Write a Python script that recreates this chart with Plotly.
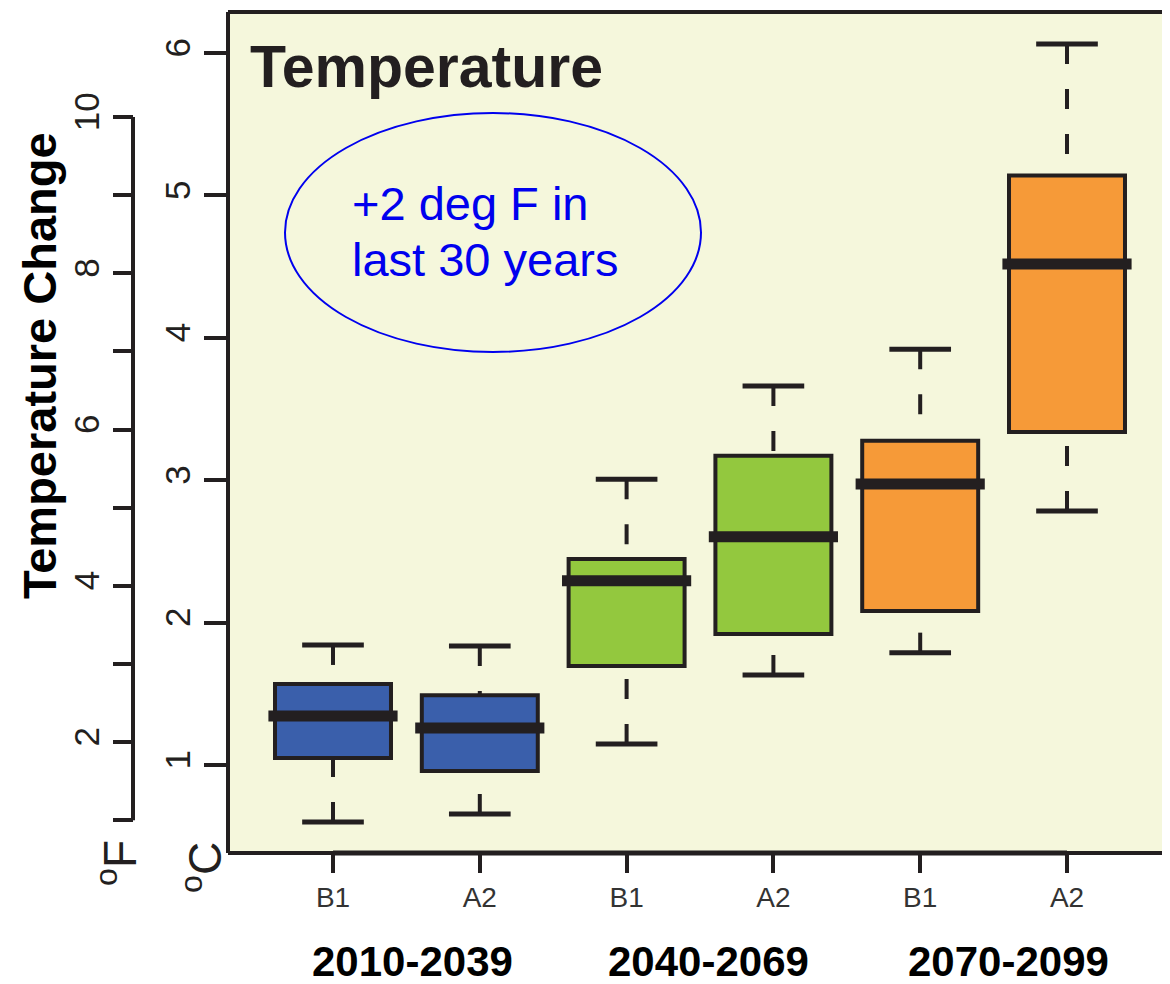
import plotly.graph_objects as go

# ---------------- data ----------------
scenarios = ["B1", "A2", "B1", "A2", "B1", "A2"]
periods = ["2010-2039", "2040-2069", "2070-2099"]
lower_whisker = [0.600, 0.656, 1.147, 1.632, 1.789, 2.784]
q1 = [1.049, 0.958, 1.695, 1.920, 2.081, 3.338]
median = [1.344, 1.260, 2.294, 2.603, 2.973, 4.518]
q3 = [1.569, 1.490, 2.447, 3.172, 3.277, 5.140]
upper_whisker = [1.843, 1.836, 3.006, 3.662, 3.919, 6.063]
box_colors = ["#3a5fab", "#3a5fab", "#93c83e", "#93c83e", "#f69a38", "#f69a38"]
celsius_ticks = [1, 2, 3, 4, 5, 6]
fahrenheit_major = [2, 4, 6, 8, 10]
fahrenheit_minor = [1, 3, 5, 7, 9]

# ---------------- style / geometry (page pixels) ----------------
PAGE_W, PAGE_H = 1170, 984
OFF = 8                      # default body margin of the html page
W, H = PAGE_W - OFF, PAGE_H - OFF
PLOT_L, PLOT_T, PLOT_B = 228, 12, 853
DARK = "#231f20"
BG = "#f5f7dc"
FONT = "Liberation Sans, Arial, sans-serif"
BOX_W = 0.79
CAP_HW = 0.21
MED_HW = 0.44


def xp(px):
    return (px - OFF) / W


def yp(py):
    return (PLOT_B - py) / (PLOT_B - PLOT_T)


pos = list(range(len(scenarios)))

fig = go.Figure()

# whiskers (dashed, drawn from the cap toward the box)
wx, wy = [], []
for i in pos:
    wx += [i, i, None, i, i, None]
    wy += [upper_whisker[i], q3[i], None, lower_whisker[i], q1[i], None]
fig.add_trace(go.Scatter(x=wx, y=wy, mode="lines", hoverinfo="skip",
                         line=dict(color=DARK, width=4, dash="20px,25px")))

# boxes
fig.add_trace(go.Bar(x=pos, y=[q3[i] - q1[i] for i in pos], base=q1, width=BOX_W,
                     marker=dict(color=box_colors, line=dict(color=DARK, width=4)),
                     hoverinfo="skip"))

# caps
cx, cy = [], []
for i in pos:
    cx += [i - CAP_HW, i + CAP_HW, None, i - CAP_HW, i + CAP_HW, None]
    cy += [upper_whisker[i], upper_whisker[i], None, lower_whisker[i], lower_whisker[i], None]
fig.add_trace(go.Scatter(x=cx, y=cy, mode="lines", hoverinfo="skip",
                         line=dict(color=DARK, width=5)))

# medians
mx, my = [], []
for i in pos:
    mx += [i - MED_HW, i + MED_HW, None]
    my += [median[i], median[i], None]
fig.add_trace(go.Scatter(x=mx, y=my, mode="lines", hoverinfo="skip",
                         line=dict(color=DARK, width=11)))

# dummy trace for the Fahrenheit axis
fig.add_trace(go.Scatter(x=[None], y=[None], yaxis="y2", showlegend=False, hoverinfo="skip"))

# axis ranges from the picture geometry
x_px_per = (1067 - 333) / 5.0
x_range = [(PLOT_L - 333) / x_px_per, 5 + (PAGE_W - 1067) / x_px_per]
c_px_per = (765 - 53) / 5.0
c_range = [1 - (PLOT_B - 765) / c_px_per, 6 + (53 - PLOT_T) / c_px_per]
f_px_per = (742 - 117) / 8.0
f_range = [2 - (PLOT_B - 742) / f_px_per, 2 + (742 - PLOT_T) / f_px_per]

fig.update_layout(
    width=W, height=H,
    margin=dict(l=0, r=0, t=PLOT_T - OFF, b=PAGE_H - PLOT_B),
    paper_bgcolor="white", plot_bgcolor=BG,
    showlegend=False, barmode="overlay",
    font=dict(family=FONT, color=DARK),
    xaxis=dict(domain=[xp(PLOT_L), 1], range=x_range, tickmode="array",
               tickvals=pos, ticktext=scenarios, ticks="outside", ticklen=19,
               tickwidth=4, tickcolor=DARK, showgrid=False, zeroline=False,
               showline=False, tickfont=dict(size=28, color="#333333", family=FONT)),
    yaxis=dict(range=c_range, tickmode="array", tickvals=celsius_ticks,
               ticktext=[str(v) for v in celsius_ticks], ticks="outside",
               ticklen=23, tickwidth=4, tickcolor=DARK, tickangle=-90,
               showgrid=False, zeroline=False, showline=False,
               tickfont=dict(size=35, color=DARK, family=FONT)),
    yaxis2=dict(overlaying="y", anchor="free", position=xp(133), side="left",
                range=f_range, tickmode="array", tickvals=fahrenheit_major,
                ticktext=[str(v) for v in fahrenheit_major], ticks="outside", ticklen=20,
                tickwidth=4, tickcolor=DARK, tickangle=-90, showgrid=False,
                zeroline=False, showline=False,
                minor=dict(tickmode="array", tickvals=fahrenheit_minor, ticks="outside",
                           ticklen=20, tickwidth=4, tickcolor=DARK, showgrid=False),
                tickfont=dict(size=35, color=DARK, family=FONT)),
)

shapes = [
    dict(type="line", xref="x domain", yref="y domain", x0=0, x1=1, y0=1, y1=1,
         line=dict(color=DARK, width=4)),
    dict(type="line", xref="x domain", yref="y domain", x0=0, x1=0, y0=0, y1=1,
         line=dict(color=DARK, width=4)),
    dict(type="line", xref="x domain", yref="y domain", x0=0, x1=1, y0=0, y1=0,
         line=dict(color=DARK, width=4)),
    dict(type="line", xref="x", yref="y domain", x0=pos[0], x1=pos[-1], y0=0, y1=0,
         line=dict(color=DARK, width=5)),
    dict(type="line", xref="paper", yref="y2", x0=xp(133), x1=xp(133),
         y0=fahrenheit_minor[0], y1=fahrenheit_major[-1],
         line=dict(color=DARK, width=4)),
    dict(type="circle", xref="paper", yref="paper", x0=xp(285), x1=xp(701),
         y0=yp(352), y1=yp(113), line=dict(color="#0000ee", width=2)),
]
fig.update_layout(shapes=shapes)

ann = []
ann.append(dict(text="<b>Temperature</b>", x=xp(248), y=yp(67), xref="paper", yref="paper",
                xanchor="left", yanchor="middle", showarrow=False,
                font=dict(size=59, color=DARK, family=FONT)))
ann.append(dict(text="+2 deg F in", x=xp(350), y=yp(203), xref="paper", yref="paper",
                xanchor="left", yanchor="middle", showarrow=False,
                font=dict(size=47, color="#0000ee", family=FONT)))
ann.append(dict(text="last 30 years", x=xp(350), y=yp(260), xref="paper", yref="paper",
                xanchor="left", yanchor="middle", showarrow=False,
                font=dict(size=47, color="#0000ee", family=FONT)))
ann.append(dict(text="<b>Temperature Change</b>", x=xp(40), y=yp(366), xref="paper",
                yref="paper", textangle=-90, xanchor="center", yanchor="middle",
                showarrow=False, font=dict(size=47, color="black", family=FONT)))
ann.append(dict(text="<sup>o</sup>F", x=xp(117), y=yp(863), xref="paper", yref="paper",
                textangle=-90, xanchor="center", yanchor="middle", showarrow=False,
                font=dict(size=46, color=DARK, family=FONT)))
ann.append(dict(text="<sup>o</sup>C", x=xp(202), y=yp(867), xref="paper", yref="paper",
                textangle=-90, xanchor="center", yanchor="middle", showarrow=False,
                font=dict(size=46, color=DARK, family=FONT)))
for k, p in enumerate(periods):
    ann.append(dict(text="<b>" + p + "</b>", x=xp([412, 708, 1008][k]), y=yp(961),
                    xref="paper", yref="paper", xanchor="center", yanchor="middle",
                    showarrow=False, font=dict(size=42, color="black", family=FONT)))
fig.update_layout(annotations=ann)

fig.write_html("out.html")
